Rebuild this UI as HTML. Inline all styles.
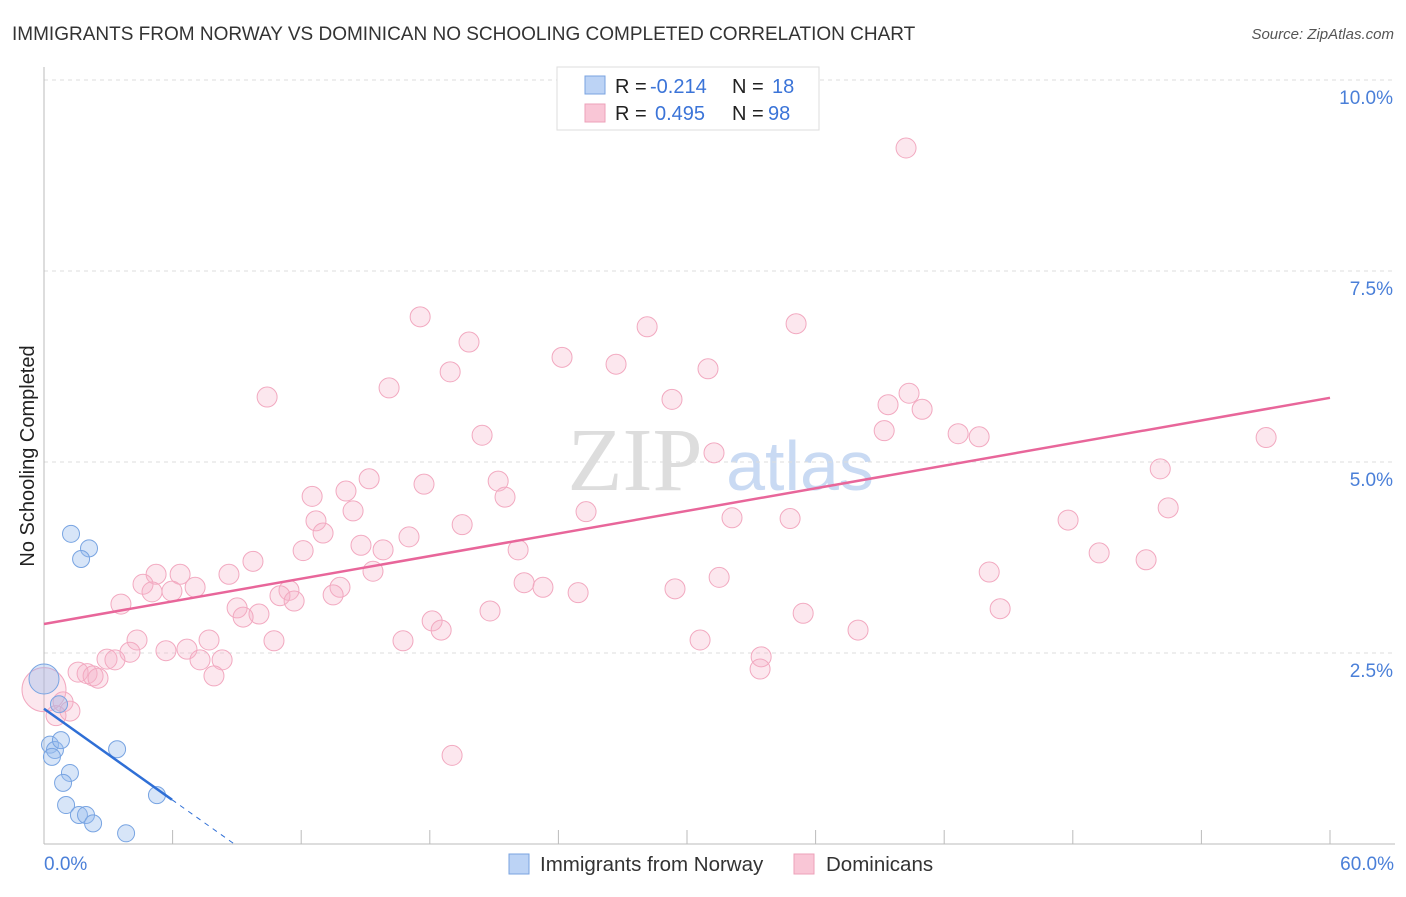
<!DOCTYPE html>
<html><head><meta charset="utf-8"><style>
body{margin:0;background:#fff;font-family:"Liberation Sans",sans-serif;}
</style></head><body>
<svg id="c" width="1406" height="892" xmlns="http://www.w3.org/2000/svg" font-family="Liberation Sans, sans-serif">
<text x="12" y="40" font-size="19" fill="#333">IMMIGRANTS FROM NORWAY VS DOMINICAN NO SCHOOLING COMPLETED CORRELATION CHART</text>
<text x="1394" y="39" font-size="15" fill="#555" font-style="italic" text-anchor="end">Source: ZipAtlas.com</text>
<text x="34" y="456" font-size="20" fill="#222" text-anchor="middle" transform="rotate(-90 34 456)">No Schooling Completed</text>
<g><text x="635" y="490" font-size="90" fill="#ddd" font-family="Liberation Serif, serif" text-anchor="middle">ZIP</text><text x="800" y="490" font-size="70" fill="#c9daf3" text-anchor="middle">atlas</text></g>
<g id="grid"></g><g id="axes"></g><g id="pts"></g><g id="lines"></g>
<g font-size="20">
<rect x="557" y="67" width="262" height="63" fill="#fff" stroke="#ddd"/>
<rect x="585" y="76" width="20" height="18" fill="#bcd3f5" stroke="#7aa3e0"/>
<text x="615" y="93" fill="#222">R =</text><text x="650" y="93" fill="#3b74d8">-0.214</text>
<text x="732" y="93" fill="#222">N =</text><text x="772" y="93" fill="#3b74d8">18</text>
<rect x="585" y="104" width="20" height="18" fill="#f9c6d6" stroke="#eda1b9"/>
<text x="615" y="120" fill="#222">R =</text><text x="655" y="120" fill="#3b74d8">0.495</text>
<text x="732" y="120" fill="#222">N =</text><text x="768" y="120" fill="#3b74d8">98</text>
</g>
<g font-size="20.5">
<rect x="509" y="854" width="20" height="20" fill="#bcd3f5" stroke="#7aa3e0"/>
<text x="540" y="871" fill="#333">Immigrants from Norway</text>
<rect x="794" y="854" width="20" height="20" fill="#f9c6d6" stroke="#eda1b9"/>
<text x="826" y="871" fill="#333">Dominicans</text>
</g>
</svg>
<script>
const yTicks=[2.5,5,7.5,10];
const xTickLabels=["0.0%","60.0%"];
const norwayX=[1.26,2.10,1.73,0.0,0.70,0.28,0.51,0.37,0.79,3.41,1.21,0.89,1.03,5.27,1.63,1.96,2.29,3.83];
const norwayY=[4.06,3.87,3.73,2.16,1.83,1.30,1.23,1.14,1.36,1.24,0.93,0.80,0.51,0.64,0.38,0.38,0.27,0.14];
const domX=[40.22,17.55,28.14,35.09,19.83,24.17,26.69,18.95,30.98,16.10,10.41,29.30,40.36,39.38,40.97,20.44,39.20,42.65,43.63,57.02,31.26,52.08,15.17,17.73,14.09,21.19,12.51,21.51,14.42,52.45,25.29,32.10,34.81,47.78,19.51,12.69,13.02,17.03,14.79,12.09,15.82,22.12,9.75,49.23,51.42,15.35,44.10,5.23,6.35,8.63,31.50,22.40,4.62,23.28,7.05,13.81,5.97,11.43,24.92,5.04,13.49,11.01,11.67,29.44,3.59,9.01,10.03,9.29,20.81,35.42,44.61,18.11,18.53,37.98,4.34,7.70,10.73,16.75,30.61,4.01,5.69,6.67,2.94,3.31,7.28,8.31,33.46,33.41,1.59,2.01,2.29,2.52,7.93,0,0.89,1.21,0.56,19.04];
const domY=[9.11,6.90,6.77,6.81,6.57,6.37,6.28,6.18,6.22,5.97,5.85,5.82,5.90,5.75,5.69,5.35,5.41,5.37,5.33,5.32,5.12,4.91,4.78,4.71,4.62,4.75,4.55,4.54,4.36,4.40,4.35,4.27,4.26,4.24,4.18,4.23,4.07,4.02,3.91,3.84,3.85,3.85,3.70,3.81,3.72,3.57,3.56,3.53,3.53,3.53,3.49,3.42,3.40,3.36,3.36,3.36,3.31,3.32,3.29,3.30,3.26,3.25,3.18,3.34,3.14,3.09,3.01,2.97,3.05,3.02,3.08,2.92,2.80,2.80,2.67,2.67,2.66,2.66,2.67,2.51,2.53,2.55,2.42,2.41,2.41,2.41,2.45,2.29,2.25,2.23,2.20,2.17,2.20,2.02,1.86,1.74,1.68,1.16];
const domTrend=[2.88,5.84];
const norTrend=[1.77,0.58,5.97];
const NS="http://www.w3.org/2000/svg";
const X=v=>44+v*1286/60, Y=v=>844-v*76.4;
function mk(p,t,a){const e=document.createElementNS(NS,t);for(const k in a)e.setAttribute(k,a[k]);p.appendChild(e);return e;}
const grid=document.getElementById('grid'),axes=document.getElementById('axes'),pts=document.getElementById('pts'),lines=document.getElementById('lines');
yTicks.forEach(t=>{const l=mk(grid,'line',{x1:44,x2:1395,y1:Y(t),y2:Y(t),stroke:'#ddd','stroke-dasharray':'4 4'});


const tx=mk(grid,'text',{x:1393,y:Y(t)+24,'font-size':19,fill:'#4a7fd8','text-anchor':'end'});tx.textContent=(t===10?'10.0':t.toFixed(1))+'%';

});
const ax=mk(axes,'line',{x1:44,x2:44,y1:67,y2:844,stroke:'#bbb'});


const bx=mk(axes,'line',{x1:44,x2:1395,y1:844,y2:844,stroke:'#bbb'});


for(let i=0;i<=10;i++){const t=mk(axes,'line',{x1:X(i*6),x2:X(i*6),y1:830,y2:844,stroke:'#bbb'});

}
[[0,'start',44],[60,'end',1394]].forEach((d,i)=>{const t=mk(axes,'text',{x:d[2],y:870,'font-size':19,fill:'#4a7fd8','text-anchor':d[1]});t.textContent=xTickLabels[i];

});
domX.forEach((v,i)=>{const r=(v===0)?22:10;const c=mk(pts,'circle',{cx:X(v),cy:Y(domY[i]),r:r,fill:'rgba(246,176,200,0.3)',stroke:'#f2a9c0','stroke-width':1});

});
norwayX.forEach((v,i)=>{const r=(v===0)?15:8.5;const c=mk(pts,'circle',{cx:X(v),cy:Y(norwayY[i]),r:r,fill:'rgba(150,186,236,0.38)',stroke:'#78a4e2','stroke-width':1});

});
const pl=mk(lines,'line',{x1:X(0),y1:Y(domTrend[0]),x2:X(60),y2:Y(domTrend[1]),stroke:'#e8669a','stroke-width':2.5});


const sl=(norTrend[1]-norTrend[0])/norTrend[2];
const bl=mk(lines,'line',{x1:X(0),y1:Y(norTrend[0]),x2:X(norTrend[2]),y2:Y(norTrend[1]),stroke:'#2f6fd6','stroke-width':2.5});


const xe=-norTrend[0]/sl;
const bd=mk(lines,'line',{x1:X(norTrend[2]),y1:Y(norTrend[1]),x2:X(xe),y2:Y(0),stroke:'#2f6fd6','stroke-width':1,'stroke-dasharray':'5 5'});


</script>
</body></html>
